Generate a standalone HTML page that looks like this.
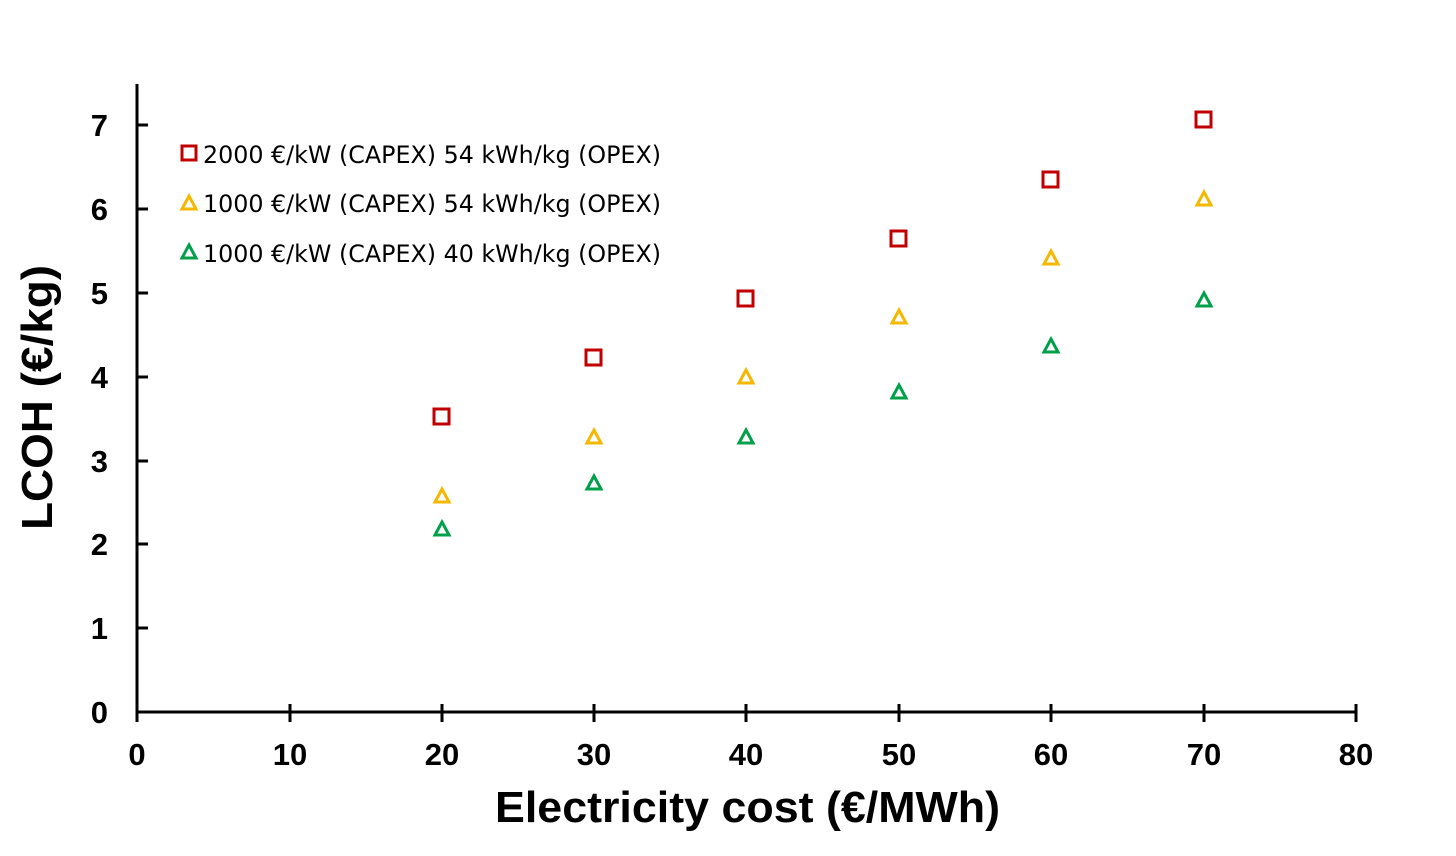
<!DOCTYPE html>
<html><head><meta charset="utf-8"><style>
html,body{margin:0;padding:0;background:#fff;}
svg{display:block;}
</style></head><body>
<svg width="1456" height="856" xmlns="http://www.w3.org/2000/svg" font-family="'Liberation Sans', 'DejaVu Sans', sans-serif">
<rect width="1456" height="856" fill="#fff"/>
<g stroke="#000" stroke-width="3" fill="none">
<line x1="137" y1="84" x2="137" y2="722"/>
<line x1="136" y1="712" x2="1357" y2="712"/>
<line x1="137" y1="125" x2="148" y2="125"/>
<line x1="137" y1="209" x2="148" y2="209"/>
<line x1="137" y1="293" x2="148" y2="293"/>
<line x1="137" y1="377" x2="148" y2="377"/>
<line x1="137" y1="461" x2="148" y2="461"/>
<line x1="137" y1="544" x2="148" y2="544"/>
<line x1="137" y1="628" x2="148" y2="628"/>
<line x1="290" y1="704" x2="290" y2="722"/>
<line x1="442" y1="704" x2="442" y2="722"/>
<line x1="594" y1="704" x2="594" y2="722"/>
<line x1="746" y1="704" x2="746" y2="722"/>
<line x1="899" y1="704" x2="899" y2="722"/>
<line x1="1051" y1="704" x2="1051" y2="722"/>
<line x1="1204" y1="704" x2="1204" y2="722"/>
<line x1="1356" y1="704" x2="1356" y2="722"/>
</g>
<g font-size="31" font-weight="bold" text-anchor="end" fill="#000">
<text x="108" y="136">7</text><text x="108" y="220">6</text><text x="108" y="304">5</text>
<text x="108" y="388">4</text><text x="108" y="472">3</text><text x="108" y="555">2</text>
<text x="108" y="639">1</text><text x="108" y="723">0</text>
</g>
<g font-size="31" font-weight="bold" text-anchor="middle" fill="#000">
<text x="137" y="765">0</text><text x="290" y="765">10</text><text x="442" y="765">20</text>
<text x="594" y="765">30</text><text x="746" y="765">40</text><text x="899" y="765">50</text>
<text x="1051" y="765">60</text><text x="1204" y="765">70</text><text x="1356" y="765">80</text>
</g>
<text x="495" y="822" font-size="44" font-weight="bold" textLength="505" lengthAdjust="spacingAndGlyphs">Electricity cost (€/MWh)</text>
<text transform="translate(52,530) rotate(-90)" font-size="44" font-weight="bold" textLength="265" lengthAdjust="spacingAndGlyphs">LCOH (€/kg)</text>
<g fill="none" stroke="#c00000" stroke-width="3">
<rect x="434" y="409" width="15" height="15"/>
<rect x="586" y="350" width="15" height="15"/>
<rect x="738" y="291" width="15" height="15"/>
<rect x="891" y="231" width="15" height="15"/>
<rect x="1043" y="172" width="15" height="15"/>
<rect x="1196" y="112" width="15" height="15"/>
<rect x="182" y="146" width="14" height="14"/>
</g>
<g fill="none" stroke="#f5b800" stroke-width="3">
<path d="M442 489 l7 13 h-14 z"/>
<path d="M594 430 l7 13 h-14 z"/>
<path d="M746 370 l7 13 h-14 z"/>
<path d="M899 310 l7 13 h-14 z"/>
<path d="M1051 251 l7 13 h-14 z"/>
<path d="M1204 192 l7 13 h-14 z"/>
<path d="M189 196 l7 13 h-14 z"/>
</g>
<g fill="none" stroke="#00a04a" stroke-width="3">
<path d="M442 522 l7 13 h-14 z"/>
<path d="M594 476 l7 13 h-14 z"/>
<path d="M746 430 l7 13 h-14 z"/>
<path d="M899 385 l7 13 h-14 z"/>
<path d="M1051 339 l7 13 h-14 z"/>
<path d="M1204 293 l7 13 h-14 z"/>
<path d="M189 245 l7 13 h-14 z"/>
</g>
<g font-size="24" fill="#000" font-family="'DejaVu Sans', 'Liberation Sans', sans-serif">
<text x="203" y="163" textLength="458" lengthAdjust="spacingAndGlyphs">2000 €/kW (CAPEX) 54 kWh/kg (OPEX)</text>
<text x="203" y="212" textLength="458" lengthAdjust="spacingAndGlyphs">1000 €/kW (CAPEX) 54 kWh/kg (OPEX)</text>
<text x="203" y="262" textLength="458" lengthAdjust="spacingAndGlyphs">1000 €/kW (CAPEX) 40 kWh/kg (OPEX)</text>
</g>
</svg>
</body></html>
